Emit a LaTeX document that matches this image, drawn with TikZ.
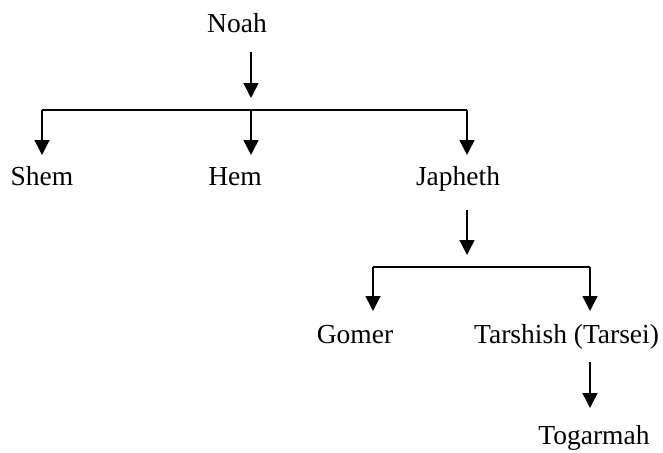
\documentclass[tikz,border=0pt]{standalone}
\usepackage{fontspec}
\setmainfont{Liberation Serif}
\usetikzlibrary{arrows.meta}
\begin{document}
\begin{tikzpicture}[x=1pt,y=-1pt,
  person/.style={inner sep=0pt,anchor=base,font=\fontsize{27.5}{30}\selectfont},
  arr/.style={line width=1.5pt,-{Triangle[width=15pt,length=15pt]}},
  bar/.style={line width=1.5pt}]
\useasboundingbox (0,0) rectangle (663,452);
% names
\node[person] (noah) at (237,33) {Noah};
\node[person] (shem) at (42,185) {Shem};
\node[person] (hem) at (235,185) {Hem};
\node[person] (japheth) at (458,185) {Japheth};
\node[person] (gomer) at (355,343) {Gomer};
\node[person,anchor=base west] (tarshish) at (474,343) {Tarshish (Tarsei)};
\node[person] (togarmah) at (594,444.5) {Togarmah};
% first generation
\coordinate (n1) at (251,52);
\coordinate (n2) at (251,110);
\coordinate (bl) at (42,110);
\coordinate (br) at (467,110);
\draw[arr] (n1) -- (n1 |- 0,98);
\draw[bar] (bl) -- (br);
\draw[arr] (bl) -- (bl |- 0,155);
\draw[arr] (n2) -- (n2 |- 0,155);
\draw[arr] (br) -- (br |- 0,155);
% sons of Japheth
\coordinate (j1) at (467,210);
\coordinate (cl) at (373,267);
\coordinate (cr) at (590,267);
\draw[arr] (j1) -- (j1 |- 0,255);
\draw[bar] (cl) -- (cr);
\draw[arr] (cl) -- (cl |- 0,311);
\draw[arr] (cr) -- (cr |- 0,311);
% son of Tarshish
\coordinate (t1) at (590,362);
\draw[arr] (t1) -- (t1 |- 0,408);
\end{tikzpicture}
\end{document}
